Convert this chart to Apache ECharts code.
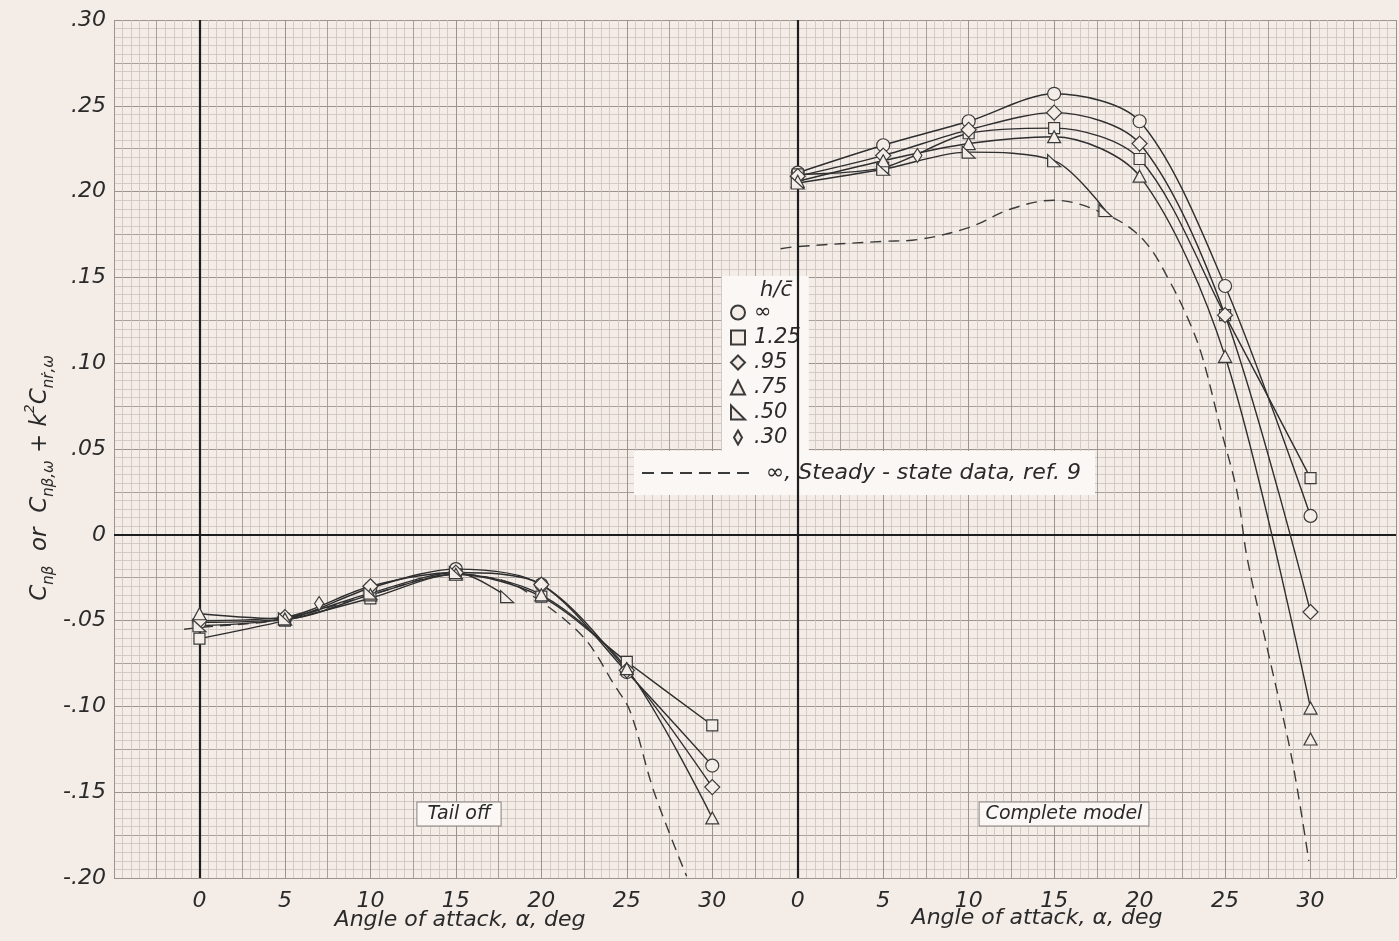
<!DOCTYPE html>
<html>
<head>
<meta charset="utf-8">
<title>Cn beta vs angle of attack</title>
<script src="https://cdn.jsdelivr.net/npm/echarts@6/dist/echarts.min.js"></script>
<style>
  html, body { margin: 0; padding: 0; background: #f3ece7; }
  #chart { width: 1399px; height: 941px; }
</style>
</head>
<body>
<div id="chart"></div>
<script>
// angle of attack points (deg)
var alpha = [0, 5, 10, 15, 20, 25, 30];
var alpha50 = [0, 5, 10, 15, 18];

// tail off
var tailInf = [-0.051, -0.049, -0.031, -0.020, -0.029, -0.080, -0.1345];
var tail125 = [-0.0605, -0.050, -0.037, -0.023, -0.036, -0.074, -0.111];
var tail095 = [-0.050, -0.048, -0.030, -0.022, -0.029, -0.079, -0.147];
var tail075 = [-0.046, -0.049, -0.035, -0.023, -0.035, -0.078, -0.165];
var tail050 = [-0.053, -0.049, -0.034, -0.022, -0.036];
var tail030 = [[7, -0.040]];

// complete model
var compInf = [0.211, 0.227, 0.241, 0.257, 0.241, 0.145, 0.011];
var comp125 = [0.210, 0.214, 0.234, 0.237, 0.219, 0.128, 0.033];
var comp095 = [0.209, 0.221, 0.236, 0.246, 0.228, 0.128, -0.045];
var comp075 = [0.206, 0.218, 0.228, 0.232, 0.209, 0.104, -0.101];
var comp075extra = [[30, -0.119]];
var comp050 = [0.205, 0.213, 0.223, 0.218, 0.189];
var comp030 = [[7, 0.221]];

// steady-state data, ref. 9 (dashed)
var steadyTailAlpha = [-0.9, 0, 5, 10, 15, 17.5, 19.1, 22.4, 24.3, 25.2, 26.6, 28.5];
var steadyTail = [-0.055, -0.054, -0.049, -0.035, -0.023, -0.026, -0.033, -0.059, -0.088, -0.103, -0.150, -0.199];
var steadyCompAlpha = [-1, 0, 5, 7, 10, 12.5, 15, 18.4, 20.3, 21.8, 23, 23.7, 24.7, 25.7, 26.3, 27.6, 28.9, 29.9];
var steadyComp = [0.1667, 0.168, 0.171, 0.172, 0.179, 0.190, 0.195, 0.185, 0.171, 0.147, 0.122, 0.1026, 0.0635, 0.025, -0.014, -0.072, -0.130, -0.190];

var hNames = ["∞", "1.25", ".95", ".75", ".50", ".30"];
var steadyName = "∞, Steady - state data, ref. 9";

// the second panel sits 35 deg to the right on the same axis
var panelShift = 35;

var paper = "#f3ece7";
var ink = "#2e2e2e";
var font = "DejaVu Sans";

function pairs(xs, ys, shift) {
  return ys.map(function (y, i) { return [xs[i] + shift, y]; });
}
function shifted(list, shift) {
  return list.map(function (p) { return [p[0] + shift, p[1]]; });
}

var symbols = {
  "∞": { symbol: "circle", size: 13 },
  "1.25": { symbol: "rect", size: 11 },
  ".95": { symbol: "diamond", size: [15, 15] },
  ".75": { symbol: "triangle", size: [13, 12] },
  ".50": { symbol: "path://M0,0L0,10L10,10Z", size: [13, 12] },
  ".30": { symbol: "path://M4,0L8,7L4,14L0,7Z", size: [9, 14] },
};

function dataSeries(name, data) {
  return {
    name: name,
    type: "line",
    data: data,
    smooth: 0.3,
    symbol: symbols[name].symbol,
    symbolSize: symbols[name].size,
    showAllSymbol: true,
    itemStyle: { color: paper, borderColor: "#3a3a3a", borderWidth: 1.2 },
    lineStyle: { color: ink, width: 1.4 },
    emphasis: { disabled: true },
    z: 5,
  };
}

var series = [
  dataSeries("∞", pairs(alpha, tailInf, 0)),
  dataSeries("1.25", pairs(alpha, tail125, 0)),
  dataSeries(".95", pairs(alpha, tail095, 0)),
  dataSeries(".75", pairs(alpha, tail075, 0)),
  dataSeries(".50", pairs(alpha50, tail050, 0)),
  dataSeries(".30", tail030),
  dataSeries("∞", pairs(alpha, compInf, panelShift)),
  dataSeries("1.25", pairs(alpha, comp125, panelShift)),
  dataSeries(".95", pairs(alpha, comp095, panelShift)),
  dataSeries(".75", pairs(alpha, comp075, panelShift)),
  dataSeries(".75", shifted(comp075extra, panelShift)),
  dataSeries(".50", pairs(alpha50, comp050, panelShift)),
  dataSeries(".30", shifted(comp030, panelShift)),
];

[pairs(steadyTailAlpha, steadyTail, 0), pairs(steadyCompAlpha, steadyComp, panelShift)].forEach(function (d) {
  series.push({
    name: steadyName,
    type: "line",
    data: d,
    smooth: 0.35,
    symbol: "none",
    itemStyle: { color: "#3a3a3a" },
    lineStyle: { color: "#3a3a3a", width: 1.4, type: [11, 7] },
    emphasis: { disabled: true },
    z: 4,
  });
});

// heavy reference lines: both alpha = 0 lines and the zero line
series.push({
  type: "line",
  data: [],
  silent: true,
  markLine: {
    silent: true,
    symbol: "none",
    label: { show: false },
    lineStyle: { color: "#1e1e1e", width: 2.2, type: "solid" },
    data: [{ xAxis: 0 }, { xAxis: panelShift }, { yAxis: 0 }],
  },
  z: 3,
});

var chart = echarts.init(document.getElementById("chart"));

var gridLine = function (c, w) { return { show: true, lineStyle: { color: c, width: w } }; };

// dashed legend icon: six short dashes
var dashIcon = "path://M0,0h12v2h-12z M19,0h12v2h-12z M38,0h12v2h-12z M57,0h12v2h-12z M76,0h12v2h-12z M95,0h12v2h-12z";

var option = {
  backgroundColor: paper,
  animation: false,
  textStyle: { fontFamily: font },
  grid: { left: 114, top: 20, width: 1295, height: 858 },
  xAxis: [
    {
      type: "value", min: -5, max: 70, interval: 5,
      axisLine: { show: false }, axisTick: { show: false },
      splitLine: gridLine("#756c69", 1),
      axisLabel: {
        fontSize: 22, fontStyle: "italic", color: "#2a2a2a", margin: 12,
        formatter: function (v) {
          if (v >= 0 && v <= 30) return String(v);
          if (v >= panelShift && v <= panelShift + 30) return String(v - panelShift);
          return "";
        },
      },
    },
    {
      type: "value", min: -5, max: 70, interval: 2.5,
      axisLine: { show: false }, axisTick: { show: false }, axisLabel: { show: false },
      splitLine: gridLine("#a09793", 0.9),
      minorTick: { show: false, splitNumber: 5 },
      minorSplitLine: gridLine("#cbc2be", 0.8),
    },
  ],
  yAxis: [
    {
      type: "value", min: -0.2, max: 0.3, interval: 0.05,
      axisLine: { show: false }, axisTick: { show: false },
      splitLine: gridLine("#756c69", 1),
      axisLabel: {
        fontSize: 22, fontStyle: "italic", color: "#2a2a2a", margin: 8,
        formatter: function (v) {
          if (Math.abs(v) < 1e-9) return "0";
          var s = Math.abs(v).toFixed(2).replace(/^0/, "");
          return (v < 0 ? "-" : "") + s;
        },
      },
    },
    {
      type: "value", min: -0.2, max: 0.3, interval: 0.025,
      axisLine: { show: false }, axisTick: { show: false }, axisLabel: { show: false },
      splitLine: gridLine("#a09793", 0.9),
      minorTick: { show: false, splitNumber: 5 },
      minorSplitLine: gridLine("#cbc2be", 0.8),
    },
  ],
  legend: [
    {
      orient: "vertical",
      left: 722, top: 276,
      padding: [26, 8, 4, 8],
      backgroundColor: "#faf7f4",
      itemWidth: 14, itemHeight: 14, itemGap: 4,
      selectedMode: false,
      textStyle: {
        fontSize: 21, fontStyle: "italic", color: "#2a2a2a", fontFamily: font,
        lineHeight: 20, padding: [0, 0, 0, 4],
      },
      data: hNames.map(function (n) {
        return { name: n, icon: symbols[n].symbol };
      }),
    },
    {
      left: 634, top: 451,
      padding: [11, 14, 11, 8],
      backgroundColor: "#faf7f4",
      itemWidth: 107, itemHeight: 2, itemGap: 0,
      selectedMode: false,
      textStyle: { fontSize: 22, fontStyle: "italic", color: "#2a2a2a", fontFamily: font, padding: [0, 0, 0, 12] },
      data: [{ name: steadyName, icon: dashIcon }],
    },
  ],
  graphic: [
    {
      type: "text", x: 792, y: 280, z: 100,
      style: { text: "h/c\u0304", font: "italic 21px " + font, fill: "#2a2a2a", align: "right", verticalAlign: "top" },
    },
    {
      type: "text", x: 459, y: 814, z: 100,
      style: {
        text: "Tail off", font: "italic 19px " + font, fill: "#2a2a2a",
        align: "center", verticalAlign: "middle",
        backgroundColor: "#faf7f4", borderColor: "#8a8280", borderWidth: 1, padding: [2, 10],
      },
    },
    {
      type: "text", x: 1064, y: 814, z: 100,
      style: {
        text: "Complete model", font: "italic 19px " + font, fill: "#2a2a2a",
        align: "center", verticalAlign: "middle",
        backgroundColor: "#faf7f4", borderColor: "#8a8280", borderWidth: 1, padding: [2, 6],
      },
    },
    {
      type: "text", x: 460, y: 920, z: 100,
      style: { text: "Angle of attack, α, deg", font: "italic 22px " + font, fill: "#2a2a2a", align: "center", verticalAlign: "middle" },
    },
    {
      type: "text", x: 1037, y: 918, z: 100,
      style: { text: "Angle of attack, α, deg", font: "italic 22px " + font, fill: "#2a2a2a", align: "center", verticalAlign: "middle" },
    },
    {
      type: "text", x: 40, y: 478, rotation: Math.PI / 2, z: 100,
      style: {
        text: "{c|C}{s|nβ}{t|  or  }{c|C}{s|nβ,ω}{t| + k}{sup|2}{c|C}{s|nṙ,ω}",
        align: "center", verticalAlign: "middle",
        rich: {
          c: { fontSize: 23, fontStyle: "italic", fontFamily: font, fill: "#2a2a2a", lineHeight: 34, verticalAlign: "middle" },
          t: { fontSize: 23, fontStyle: "italic", fontFamily: font, fill: "#2a2a2a", lineHeight: 34, verticalAlign: "middle" },
          s: { fontSize: 15, fontStyle: "italic", fontFamily: font, fill: "#2a2a2a", lineHeight: 14, verticalAlign: "bottom" },
          sup: { fontSize: 14, fontStyle: "italic", fontFamily: font, fill: "#2a2a2a", lineHeight: 14, verticalAlign: "top" },
        },
      },
    },
  ],
  series: series,
};

chart.setOption(option);
</script>
</body>
</html>
